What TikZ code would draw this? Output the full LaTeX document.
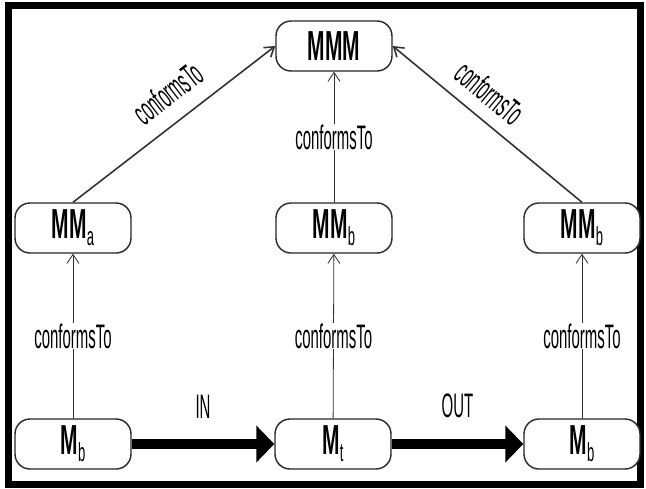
\documentclass[tikz,border=0pt]{standalone}
\usepackage{fontspec}
\setmainfont{Liberation Sans}
\newfontfamily\lblfont[FakeStretch=0.44]{Liberation Sans}
\newfontfamily\nodefont[FakeStretch=0.5]{Liberation Sans}
\usetikzlibrary{arrows.meta}
\newcommand{\subx}[1]{\raisebox{-7pt}{\mdseries\fontsize{26}{26}\selectfont #1}}
\begin{document}
\begin{tikzpicture}[x=1pt,y=-1pt,
  model/.style={draw=black!85, line width=1.4pt, rounded corners=15pt,
    minimum width=116pt, minimum height=50pt, inner sep=0pt, fill=white,
    font=\nodefont\bfseries\fontsize{42}{42}\selectfont},
  conf/.style={-{Straight Barb[length=9pt,width=12pt]}, line width=0.8pt, draw=black!80},
  diag/.style={conf, line width=1.6pt},
  lbl/.style={font=\lblfont\fontsize{34}{34}\selectfont, fill=white, inner sep=1pt},
  flow/.style={line width=10pt, -{Triangle[length=18pt,width=36pt]}}]
\useasboundingbox (0,0) rectangle (646,488);
\fill[white] (0,0) rectangle (646,488);
\draw[line width=7pt] (8.5,5.5) rectangle (640,484.5);
% nodes
\node[model] (mmm) at (334,46) {MMM};
\node[model] (mma) at (73,228) {MM\subx{a}};
\node[model] (mmbm) at (334,228) {MM\subx{b}};
\node[model] (mmbr) at (582,228) {MM\subx{b}};
\node[model] (mbl) at (73,444) {M\subx{b}};
\node[model] (mt) at (333,444) {M\subx{t}};
\node[model] (mbr) at (582,444) {M\subx{b}};
% conformsTo vertical
\draw[conf] (mbl) -- (mma) node[midway, lbl] {conformsTo};
\draw[conf] (mt) -- (mmbm) node[midway, lbl] {conformsTo};
\draw[conf] (mbr) -- (mmbr) node[midway, lbl] {conformsTo};
\draw[conf] (mmbm) -- (mmm) node[midway, lbl] {conformsTo};
% diagonals
\draw[diag] (mma.north) -- (mmm.west);
\draw[diag] (mmbr.north) -- (mmm.east);
\node[lbl, fill=none, rotate=37.7] (l1) at (168,93) {conformsTo};
\node[lbl, fill=none, rotate=-39.7] (l2) at (490,93) {conformsTo};
% flows
\draw[flow] (mbl) -- (mt) node[midway, lbl, fill=none, above=20pt] {IN};
\draw[flow] (mt) -- (mbr) node[midway, lbl, fill=none, above=20pt] {OUT};
\end{tikzpicture}
\end{document}
